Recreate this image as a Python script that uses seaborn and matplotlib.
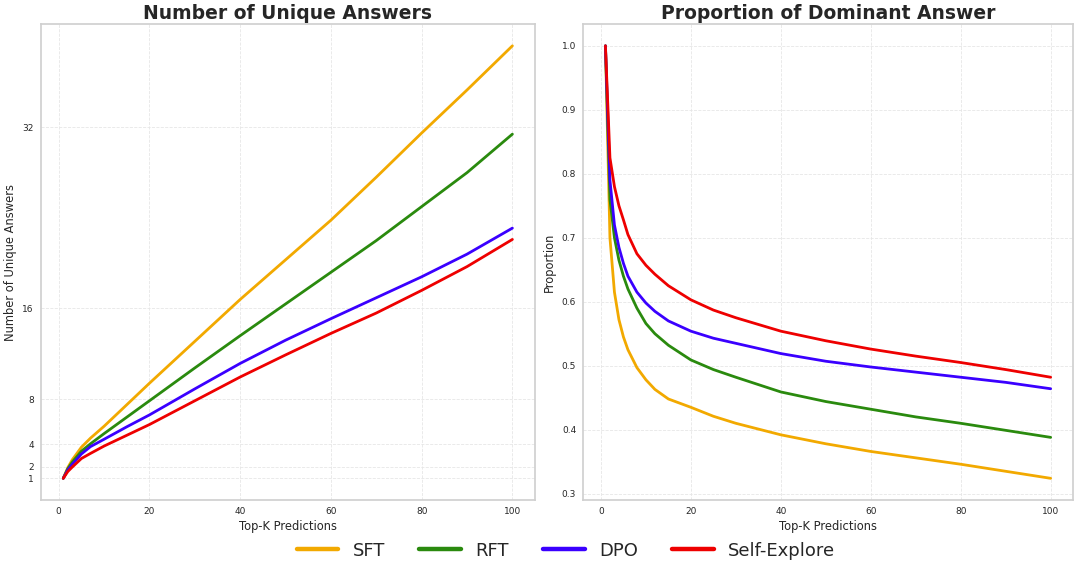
import numpy as np
import pandas as pd
import matplotlib
matplotlib.use("Agg")
import matplotlib.pyplot as plt
import seaborn as sns
from matplotlib.lines import Line2D

models = ["SFT", "RFT", "DPO", "Self-Explore"]
colors = ["#F2A900", "#2A8A0E", "#3A00FF", "#EE0000"]

# Number of unique answers vs top-K
k_unique = [1, 2, 3, 5, 7, 10, 15, 20, 30, 40, 50, 60, 70, 80, 90, 100]
unique_sft = [1, 1.95, 2.65, 3.75, 4.55, 5.6, 7.5, 9.4, 13.1, 16.8, 20.3, 23.8, 27.6, 31.5, 35.3, 39.2]
unique_rft = [1, 1.85, 2.45, 3.4, 4.05, 4.95, 6.4, 7.85, 10.75, 13.6, 16.4, 19.2, 22.0, 25.0, 28.0, 31.4]
unique_dpo = [1, 1.75, 2.25, 3.15, 3.8, 4.45, 5.55, 6.6, 8.9, 11.15, 13.2, 15.1, 16.95, 18.8, 20.8, 23.1]
unique_se = [1, 1.6, 2.0, 2.75, 3.2, 3.85, 4.8, 5.75, 7.85, 9.95, 11.9, 13.8, 15.6, 17.6, 19.7, 22.1]

# Proportion of dominant answer vs top-K
k_prop = [1, 2, 3, 4, 5, 6, 8, 10, 12, 15, 20, 25, 30, 40, 50, 60, 70, 80, 90, 100]
prop_sft = [1.0, 0.70, 0.615, 0.572, 0.545, 0.525, 0.497, 0.478, 0.463, 0.448, 0.435, 0.421, 0.410, 0.392, 0.378, 0.366, 0.356, 0.346, 0.335, 0.324]
prop_rft = [1.0, 0.76, 0.70, 0.665, 0.64, 0.62, 0.59, 0.566, 0.55, 0.532, 0.509, 0.494, 0.482, 0.459, 0.444, 0.432, 0.420, 0.410, 0.399, 0.388]
prop_dpo = [1.0, 0.79, 0.72, 0.685, 0.66, 0.64, 0.615, 0.598, 0.585, 0.57, 0.554, 0.543, 0.535, 0.519, 0.507, 0.498, 0.490, 0.482, 0.474, 0.464]
prop_se = [1.0, 0.825, 0.78, 0.75, 0.728, 0.705, 0.675, 0.657, 0.643, 0.625, 0.603, 0.587, 0.575, 0.554, 0.539, 0.526, 0.515, 0.505, 0.494, 0.482]

y_ticks_unique = [1, 2, 4, 8, 16, 32]

def long_df(ks, series):
    rows = []
    for m, vals in zip(models, series):
        for k, v in zip(ks, vals):
            rows.append({"k": k, "value": v, "model": m})
    return pd.DataFrame(rows)

df_u = long_df(k_unique, [unique_sft, unique_rft, unique_dpo, unique_se])
df_p = long_df(k_prop, [prop_sft, prop_rft, prop_dpo, prop_se])

sns.set_theme(style="whitegrid")
plt.rcParams["font.family"] = ["DejaVu Sans"]
palette = dict(zip(models, colors))

fig = plt.figure(figsize=(10.74, 5.63), dpi=100)
ax1 = fig.add_axes([0.038, 0.112, 0.460, 0.845])
ax2 = fig.add_axes([0.543, 0.112, 0.456, 0.845])

sns.lineplot(data=df_u, x="k", y="value", hue="model", palette=palette,
             linewidth=2, ax=ax1, legend=False)
sns.lineplot(data=df_p, x="k", y="value", hue="model", palette=palette,
             linewidth=2, ax=ax2, legend=False)

ax1.set_yticks(y_ticks_unique)
ax1.set_yticklabels([str(t) for t in y_ticks_unique])
ax1.set_title("Number of Unique Answers", fontsize=13.5, fontweight="bold", pad=4)
ax1.set_xlabel("Top-K Predictions", fontsize=8.3, labelpad=3)
ax1.set_ylabel("Number of Unique Answers", fontsize=8.3, labelpad=4)

ax2.set_title("Proportion of Dominant Answer", fontsize=13.5, fontweight="bold", pad=4)
ax2.set_xlabel("Top-K Predictions", fontsize=8.3, labelpad=3)
ax2.set_ylabel("Proportion", fontsize=8.3, labelpad=4)

for ax in (ax1, ax2):
    ax.tick_params(labelsize=6.5, length=0, pad=5)
    ax.grid(True, linestyle="--", linewidth=0.6, color="#e6e6e6")
    for s in ax.spines.values():
        s.set_color("#d0d0d0")

handles = [Line2D([0], [0], color=c, linewidth=3.2) for c in colors]
fig.legend(handles, models, loc="center", bbox_to_anchor=(0.527, 0.022),
           ncol=4, frameon=False, fontsize=13, handlelength=2.3,
           handletextpad=0.8, columnspacing=1.9)

fig.savefig("out.png", dpi=100)
